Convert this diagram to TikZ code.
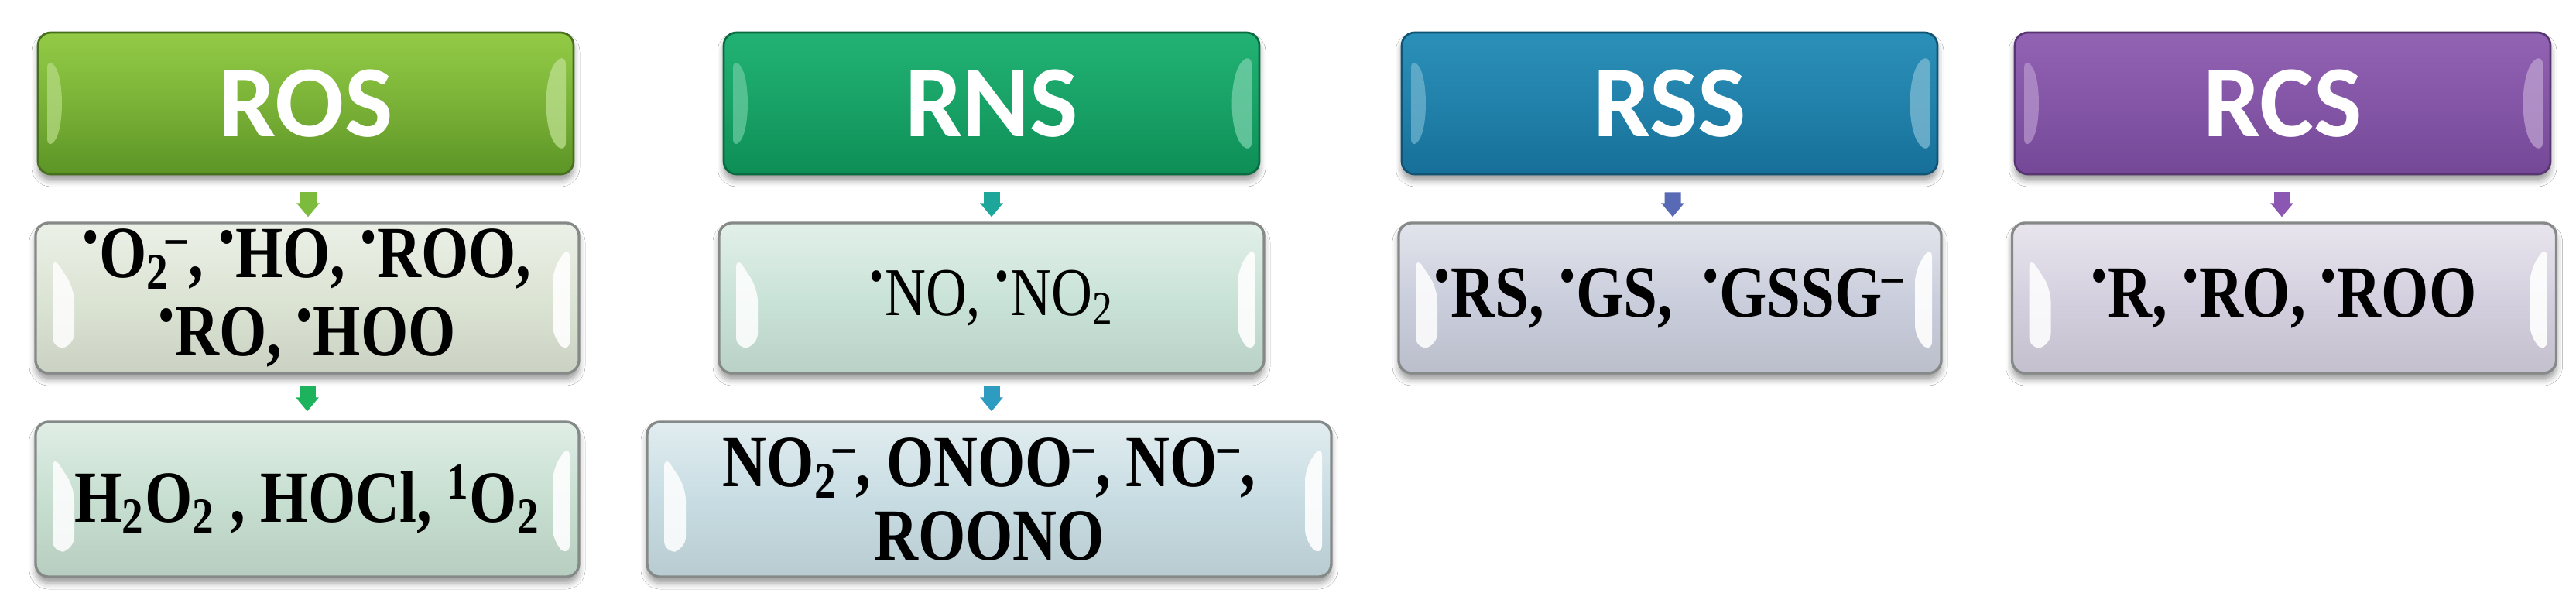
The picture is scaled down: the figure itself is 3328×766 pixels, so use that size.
\documentclass[tikz,border=0pt]{standalone}
\usepackage{fontspec}
\setmainfont{Liberation Serif}
\newfontfamily\hdrfont{Carlito}
\newfontfamily\bodyfont{Liberation Serif}[FakeStretch=0.83]
\usetikzlibrary{arrows.meta,calc,shadows.blur}
\newcommand\rdot{\textsuperscript{\textbullet}}
\newcommand\sbsp[2]{\textsubscript{#1}\kern-0.05em\textsuperscript{#2}}
\definecolor{rosT}{HTML}{93CB46}
\definecolor{rosB}{HTML}{5C9426}
\definecolor{rnsT}{HTML}{22B274}
\definecolor{rnsB}{HTML}{0D8E56}
\definecolor{rssT}{HTML}{2B90B9}
\definecolor{rssB}{HTML}{166F98}
\definecolor{rcsT}{HTML}{9262B3}
\definecolor{rcsB}{HTML}{744797}
\definecolor{ros2c}{HTML}{DCE4D4}
\definecolor{ros3c}{HTML}{C7DFD1}
\definecolor{rns2c}{HTML}{CAE3D8}
\definecolor{rns3c}{HTML}{C8DDE3}
\definecolor{rss2c}{HTML}{CBCEDC}
\definecolor{rcs2c}{HTML}{D5D0DF}
\definecolor{lborder}{HTML}{858A88}
\definecolor{arRos1}{HTML}{7CBB3C}
\definecolor{arRos2}{HTML}{1DB35C}
\definecolor{arRns1}{HTML}{1FA69A}
\definecolor{arRns2}{HTML}{2D9CC0}
\definecolor{arRss}{HTML}{5869B5}
\definecolor{arRcs}{HTML}{8B57B3}
\begin{document}
\begin{tikzpicture}[x=0.3pt,y=-0.3pt,
  shadowed/.style={blur shadow={shadow xshift=0pt,shadow yshift=-2.4pt,shadow blur radius=2.4pt,shadow opacity=40}},
  hdr/.style 2 args={shadowed, draw=#2!75!black, line width=0.8pt, rounded corners=5pt,
     top color=#1, bottom color=#2, middle color=#1!55!#2,
     minimum width=207.6pt, minimum height=54.9pt, inner sep=0pt,
     text=white, font=\hdrfont\bfseries\fontsize{39.6}{40}\selectfont,
     path picture={
       \coordinate (pa) at (path picture bounding box.north west);
       \coordinate (pb) at (path picture bounding box.south east);
       \fill[#1!65!white,opacity=0.7] ($(pa)+(12,30)$) .. controls ($(pa)+(34,60)$) and ($(pa|-pb)+(34,-60)$) .. ($(pa|-pb)+(12,-30)$) -- cycle;
       \fill[#1!60!white,opacity=0.75] ($(pb|-pa)+(-10,25)$) .. controls ($(pb|-pa)+(-40,55)$) and ($(pb)+(-40,-55)$) .. ($(pb)+(-10,-25)$) -- cycle;
     }},
  lbox/.style 2 args={shadowed, draw=lborder, line width=1pt, rounded corners=5pt,
     top color=#1!55!white, bottom color=#1!92!black, middle color=#1,
     minimum width=#2, inner sep=0pt, align=center,
     font=\bodyfont\bfseries\fontsize{28.5}{28.5}\selectfont,
     path picture={
       \coordinate (pa) at (path picture bounding box.north west);
       \coordinate (pb) at (path picture bounding box.south east);
       \fill[white,opacity=0.85] ($(pa)+(22,42)$) -- ($(pa)+(50,85)$) -- ($(pa|-pb)+(50,-35)$) -- ($(pa|-pb)+(22,-30)$) -- cycle;
       \fill[white,opacity=0.9] ($(pb|-pa)+(-12,28)$) -- ($(pb)+(-12,-25)$) -- ($(pb)+(-34,-45)$) -- ($(pb|-pa)+(-34,60)$) -- cycle;
     }},
  arr/.style={draw=#1, line width=6.3pt, -{Triangle[width=8.6pt,length=5.4pt]}}
]
\fill[white] (0,0) rectangle (3328,766);
\useasboundingbox (0,0) rectangle (3328,766);

% headers
\node[hdr={rosT}{rosB}] (ros) at (395,133.5) {ROS};
\node[hdr={rnsT}{rnsB}] (rns) at (1281,133.5) {RNS};
\node[hdr={rssT}{rssB}] (rss) at (2157,133.5) {RSS};
\node[hdr={rcsT}{rcsB}] (rcs) at (2949,133.5) {RCS};

% second row
\node[lbox={ros2c}{210.6pt}, minimum height=58.2pt, font=\bodyfont\bfseries\fontsize{28.5}{30.5}\selectfont] (ros2) at (397,385)
  {\rdot O\sbsp{2}{–}, \rdot HO, \rdot ROO,\\ \rdot RO, \rdot HOO};
\node[lbox={rns2c}{211.2pt}, minimum height=58.2pt, font=\bodyfont\mdseries\fontsize{26.5}{27}\selectfont] (rns2) at (1281,385)
  {\rdot NO, \rdot NO\textsubscript{2}};
\node[lbox={rss2c}{210.3pt}, minimum height=58.2pt] (rss2) at (2157.5,385)
  {\rdot RS, \rdot GS, \ \rdot GSSG\textsuperscript{–}};
\node[lbox={rcs2c}{210.9pt}, minimum height=58.2pt] (rcs2) at (2951,385)
  {\rdot R, \rdot RO, \rdot ROO};

% third row
\node[lbox={ros3c}{210.6pt}, minimum height=60pt] (ros3) at (397,645)
  {H\textsubscript{2}O\textsubscript{2} , HOCl, \textsuperscript{1}O\textsubscript{2}};
\node[lbox={rns3c}{265.2pt}, minimum height=60pt] (rns3) at (1278,645)
  {NO\sbsp{2}{–}, ONOO\textsuperscript{–}, NO\textsuperscript{–},\\ ROONO};

% arrows
\draw[arr=arRos1] ($(ros.south)+(3,22)$) -- ($(ros2.north)+(1,-6)$);
\draw[arr=arRos2] ($(ros2.south)+(0,15)$) -- ($(ros3.north)+(0,-12)$);
\draw[arr=arRns1] ($(rns.south)+(0,22)$) -- ($(rns2.north)+(0,-6)$);
\draw[arr=arRns2] ($(rns2.south)+(0,15)$) -- ($(rns3.north)+(3,-12)$);
\draw[arr=arRss] ($(rss.south)+(4,22)$) -- ($(rss2.north)+(3.5,-6)$);
\draw[arr=arRcs] ($(rcs.south)+(-1,22)$) -- ($(rcs2.north)+(-3,-6)$);
\end{tikzpicture}
\end{document}
